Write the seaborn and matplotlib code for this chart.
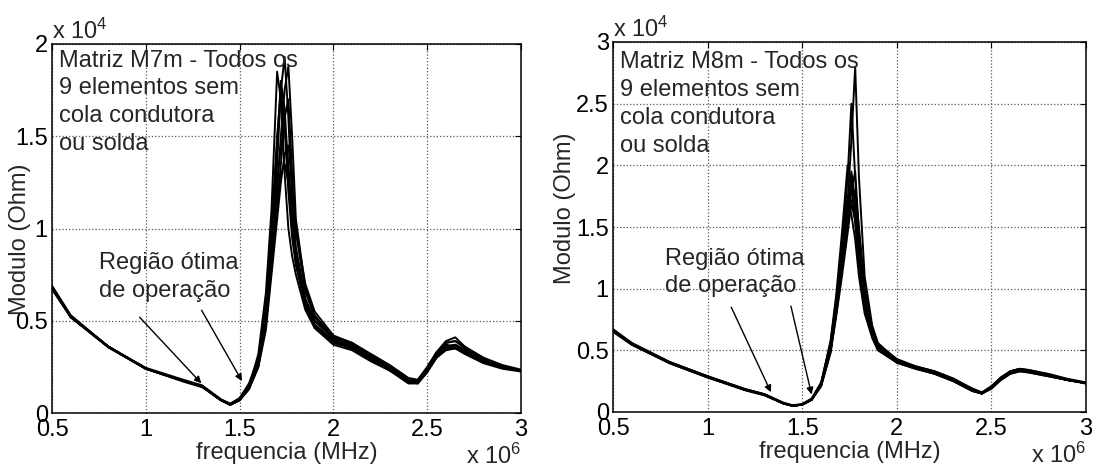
import numpy as np
import pandas as pd
import seaborn as sns
import matplotlib
matplotlib.use("Agg")
import matplotlib.pyplot as plt

# frequency grids (MHz) and impedance modulus (x 1e4 Ohm)
freq_m7m = [0.5, 0.6, 0.8, 1.0, 1.2, 1.3, 1.4, 1.45, 1.5, 1.55, 1.6, 1.64, 1.67, 1.7, 1.72, 1.74, 1.76, 1.78,
            1.8, 1.85, 1.9, 2.0, 2.1, 2.2, 2.3, 2.4, 2.45, 2.5, 2.55, 2.6, 2.65, 2.7, 2.8, 2.9, 3.0]
m7m_e1 = [0.68, 0.52, 0.36, 0.24, 0.175, 0.145, 0.07, 0.045, 0.07, 0.13, 0.25, 0.48, 0.85, 1.35, 1.75, 1.93, 1.6, 1.15,
          0.9, 0.62, 0.5, 0.4, 0.36, 0.3, 0.24, 0.17, 0.17, 0.24, 0.32, 0.37, 0.36, 0.33, 0.28, 0.25, 0.23]
m7m_e2 = [0.69, 0.53, 0.36, 0.245, 0.18, 0.15, 0.075, 0.05, 0.08, 0.15, 0.28, 0.5, 0.8, 1.2, 1.5, 1.75, 1.88, 1.5,
          1.05, 0.68, 0.53, 0.41, 0.37, 0.31, 0.25, 0.18, 0.17, 0.23, 0.31, 0.38, 0.39, 0.35, 0.29, 0.25, 0.23]
m7m_e3 = [0.67, 0.52, 0.355, 0.24, 0.17, 0.14, 0.07, 0.045, 0.07, 0.14, 0.3, 0.6, 1.0, 1.5, 1.75, 1.55, 1.2, 0.95,
          0.8, 0.58, 0.47, 0.38, 0.35, 0.29, 0.23, 0.17, 0.16, 0.22, 0.3, 0.35, 0.36, 0.33, 0.28, 0.25, 0.225]
m7m_e4 = [0.68, 0.52, 0.36, 0.24, 0.175, 0.145, 0.07, 0.05, 0.08, 0.16, 0.3, 0.55, 0.9, 1.25, 1.45, 1.55, 1.35, 1.05,
          0.85, 0.6, 0.48, 0.39, 0.36, 0.3, 0.24, 0.17, 0.18, 0.25, 0.33, 0.36, 0.37, 0.34, 0.28, 0.25, 0.23]
m7m_e5 = [0.68, 0.52, 0.36, 0.24, 0.175, 0.145, 0.07, 0.045, 0.07, 0.14, 0.32, 0.65, 1.1, 1.85, 1.7, 1.3, 1.0, 0.85,
          0.75, 0.56, 0.46, 0.37, 0.34, 0.28, 0.23, 0.16, 0.16, 0.23, 0.3, 0.34, 0.35, 0.32, 0.27, 0.24, 0.225]
m7m_e6 = [0.68, 0.52, 0.36, 0.24, 0.175, 0.145, 0.07, 0.045, 0.07, 0.13, 0.26, 0.5, 0.85, 1.15, 1.3, 1.35, 1.25, 1.0,
          0.85, 0.62, 0.5, 0.41, 0.38, 0.31, 0.25, 0.18, 0.17, 0.24, 0.33, 0.39, 0.41, 0.36, 0.29, 0.25, 0.23]
m7m_e7 = [0.68, 0.52, 0.36, 0.24, 0.175, 0.145, 0.072, 0.048, 0.075, 0.14, 0.27, 0.48, 0.78, 1.1, 1.35, 1.6, 1.7, 1.3,
          0.98, 0.66, 0.52, 0.4, 0.36, 0.3, 0.24, 0.17, 0.17, 0.24, 0.32, 0.36, 0.37, 0.34, 0.28, 0.25, 0.23]
m7m_e8 = [0.68, 0.52, 0.36, 0.24, 0.175, 0.145, 0.07, 0.045, 0.07, 0.14, 0.28, 0.55, 0.95, 1.45, 1.8, 1.65, 1.3, 1.0,
          0.82, 0.6, 0.48, 0.39, 0.35, 0.29, 0.24, 0.17, 0.17, 0.23, 0.31, 0.35, 0.35, 0.33, 0.28, 0.25, 0.23]
m7m_e9 = [0.68, 0.52, 0.36, 0.24, 0.175, 0.145, 0.07, 0.045, 0.07, 0.13, 0.25, 0.45, 0.75, 1.05, 1.25, 1.4, 1.45, 1.25,
          1.0, 0.7, 0.55, 0.42, 0.38, 0.32, 0.26, 0.19, 0.18, 0.24, 0.32, 0.38, 0.39, 0.36, 0.3, 0.26, 0.235]

freq_m8m = [0.5, 0.6, 0.8, 1.0, 1.2, 1.3, 1.4, 1.45, 1.5, 1.55, 1.6, 1.65, 1.68, 1.71, 1.74, 1.76, 1.78, 1.8,
            1.83, 1.87, 1.9, 2.0, 2.1, 2.2, 2.3, 2.4, 2.45, 2.5, 2.55, 2.6, 2.65, 2.7, 2.8, 2.9, 3.0]
m8m_e1 = [0.66, 0.55, 0.4, 0.285, 0.18, 0.14, 0.07, 0.05, 0.06, 0.1, 0.22, 0.52, 0.85, 1.25, 1.7, 2.2, 2.8, 1.9,
          1.1, 0.7, 0.56, 0.42, 0.36, 0.32, 0.26, 0.18, 0.15, 0.2, 0.27, 0.32, 0.34, 0.33, 0.3, 0.26, 0.235]
m8m_e2 = [0.67, 0.56, 0.405, 0.29, 0.185, 0.145, 0.075, 0.055, 0.065, 0.11, 0.24, 0.56, 0.9, 1.35, 1.9, 2.5, 1.9, 1.4,
          0.95, 0.66, 0.54, 0.41, 0.36, 0.31, 0.25, 0.17, 0.15, 0.2, 0.27, 0.33, 0.35, 0.33, 0.3, 0.26, 0.235]
m8m_e3 = [0.65, 0.545, 0.395, 0.28, 0.18, 0.14, 0.07, 0.05, 0.06, 0.1, 0.23, 0.58, 0.95, 1.45, 2.0, 1.85, 1.55, 1.2,
          0.85, 0.62, 0.52, 0.4, 0.35, 0.31, 0.25, 0.17, 0.15, 0.19, 0.26, 0.31, 0.33, 0.32, 0.29, 0.26, 0.235]
m8m_e4 = [0.66, 0.55, 0.4, 0.285, 0.18, 0.14, 0.07, 0.05, 0.06, 0.1, 0.22, 0.5, 0.82, 1.2, 1.6, 1.95, 1.7, 1.3,
          0.9, 0.64, 0.54, 0.42, 0.36, 0.32, 0.26, 0.18, 0.15, 0.2, 0.27, 0.32, 0.34, 0.33, 0.3, 0.26, 0.235]
m8m_e5 = [0.66, 0.55, 0.4, 0.285, 0.18, 0.14, 0.07, 0.05, 0.06, 0.1, 0.21, 0.48, 0.78, 1.1, 1.45, 1.7, 1.8, 1.5,
          1.0, 0.68, 0.55, 0.43, 0.37, 0.33, 0.27, 0.19, 0.16, 0.21, 0.28, 0.33, 0.35, 0.34, 0.31, 0.27, 0.24]
m8m_e6 = [0.67, 0.555, 0.405, 0.29, 0.185, 0.145, 0.075, 0.05, 0.06, 0.1, 0.23, 0.55, 0.92, 1.35, 1.75, 1.6, 1.4, 1.1,
          0.8, 0.6, 0.5, 0.4, 0.35, 0.31, 0.25, 0.17, 0.15, 0.19, 0.26, 0.31, 0.33, 0.32, 0.29, 0.26, 0.23]
m8m_e7 = [0.66, 0.55, 0.4, 0.285, 0.18, 0.14, 0.07, 0.05, 0.06, 0.1, 0.22, 0.52, 0.86, 1.25, 1.65, 1.85, 1.6, 1.25,
          0.88, 0.64, 0.53, 0.41, 0.36, 0.32, 0.26, 0.18, 0.15, 0.2, 0.27, 0.32, 0.34, 0.33, 0.3, 0.26, 0.235]
m8m_e8 = [0.655, 0.545, 0.395, 0.28, 0.175, 0.135, 0.07, 0.05, 0.06, 0.1, 0.21, 0.49, 0.8, 1.15, 1.5, 1.8, 1.95, 1.45,
          0.98, 0.66, 0.54, 0.42, 0.37, 0.33, 0.27, 0.18, 0.15, 0.2, 0.28, 0.33, 0.35, 0.34, 0.3, 0.26, 0.235]
m8m_e9 = [0.66, 0.55, 0.4, 0.285, 0.18, 0.14, 0.07, 0.05, 0.06, 0.1, 0.22, 0.5, 0.8, 1.15, 1.5, 1.7, 1.55, 1.2,
          0.85, 0.62, 0.52, 0.41, 0.36, 0.32, 0.26, 0.18, 0.15, 0.2, 0.27, 0.32, 0.34, 0.33, 0.3, 0.26, 0.235]

x_ticks = [0.5, 1, 1.5, 2, 2.5, 3]
x_ticklabels = ["0.5", "1", "1.5", "2", "2.5", "3"]
y_ticks_m7m = [0, 0.5, 1, 1.5, 2]
y_ticklabels_m7m = ["0", "0.5", "1", "1.5", "2"]
y_ticks_m8m = [0, 0.5, 1, 1.5, 2, 2.5, 3]
y_ticklabels_m8m = ["0", "0.5", "1", "1.5", "2", "2.5", "3"]


def to_long(freq, curves):
    rows = []
    for i, c in enumerate(curves):
        rows.append(pd.DataFrame({"freq": freq, "mod": c, "elem": i + 1}))
    return pd.concat(rows, ignore_index=True)


df_m7m = to_long(freq_m7m, [m7m_e1, m7m_e2, m7m_e3, m7m_e4, m7m_e5, m7m_e6, m7m_e7, m7m_e8, m7m_e9])
df_m8m = to_long(freq_m8m, [m8m_e1, m8m_e2, m8m_e3, m8m_e4, m8m_e5, m8m_e6, m8m_e7, m8m_e8, m8m_e9])

sns.set_style("white")
plt.rcParams["font.family"] = ["Liberation Sans", "DejaVu Sans"]
plt.rcParams["mathtext.fontset"] = "custom"
plt.rcParams["mathtext.rm"] = "Liberation Sans"
plt.rcParams["mathtext.it"] = "Liberation Sans"

fig = plt.figure(figsize=(11.02, 4.68), dpi=100)
ax1 = fig.add_axes([52 / 1102, 55 / 468, 469 / 1102, 369 / 468])
ax2 = fig.add_axes([613 / 1102, 56 / 468, 473 / 1102, 370 / 468])

fs = 17

panels = [
    (ax1, df_m7m, 2, y_ticks_m7m, y_ticklabels_m7m, "Matriz M7m - Todos os\n9 elementos sem\ncola condutora\nou solda",
     0.985, (0.753, 0.87), [((0.957, 0.53), (1.306, 0.15)), ((1.29, 0.57), (1.52, 0.16))]),
    (ax2, df_m8m, 3, y_ticks_m8m, y_ticklabels_m8m, "Matriz M8m - Todos os\n9 elementos sem\ncola condutora\nou solda",
     0.975, (0.775, 1.33), [((1.119, 0.87), (1.341, 0.14)), ((1.437, 0.88), (1.553, 0.12))]),
]

for ax, df, ymax, yt, ytl, title, title_y, txt_xy, arrows in panels:
    sns.lineplot(data=df, x="freq", y="mod", units="elem", estimator=None, sort=False,
                 color="k", lw=1.4, legend=False, ax=ax)
    ax.set_xlim(0.5, 3)
    ax.set_ylim(0, ymax)
    ax.set_xticks(x_ticks)
    ax.set_xticklabels(x_ticklabels)
    ax.set_yticks(yt)
    ax.set_yticklabels(ytl)
    ax.tick_params(direction="in", top=True, right=True, labelsize=fs, length=4, colors="k")
    ax.tick_params(axis="x", pad=4)
    ax.tick_params(axis="y", pad=3)
    ax.grid(True, linestyle=":", color="0.35", lw=0.9)
    for s in ax.spines.values():
        s.set_color("k")
        s.set_linewidth(1.1)
    ax.set_xlabel("frequencia (MHz)", fontsize=fs)
    ax.xaxis.set_label_coords(0.5, -0.078)
    ax.set_ylabel("Modulo (Ohm)", fontsize=fs)
    ax.text(0.014, title_y, title, transform=ax.transAxes, fontsize=fs, va="top", ha="left",
            linespacing=1.35)
    ax.text(0.0, 1.0, r"x 10$^4$", transform=ax.transAxes, fontsize=fs, va="bottom", ha="left")
    ax.text(1.0, -0.083, r"x 10$^6$", transform=ax.transAxes, fontsize=fs, va="top", ha="right")
    ax.text(txt_xy[0], txt_xy[1], "Região ótima\nde operação", fontsize=fs, va="top", ha="left",
            linespacing=1.3)
    for start, tip in arrows:
        ax.annotate("", xy=tip, xytext=start,
                    arrowprops=dict(arrowstyle="-|>", color="k", lw=1.0, mutation_scale=10))

ax1.yaxis.set_label_coords(-0.045, 0.47)
ax2.yaxis.set_label_coords(-0.078, 0.55)

fig.savefig("out.png", dpi=100)
